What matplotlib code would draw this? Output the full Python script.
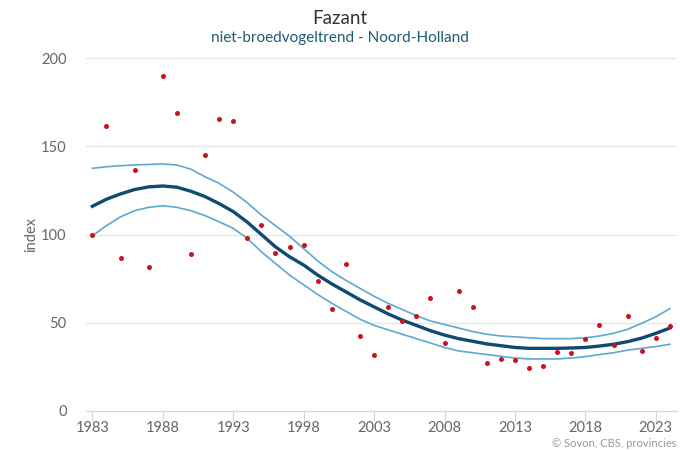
import numpy as np
import matplotlib
matplotlib.use("Agg")
import matplotlib.pyplot as plt

plt.rcParams['font.family'] = ['Lato', 'DejaVu Sans']

# observed index values per year
years = list(range(1983, 2025))
index_obs = [100, 161.5, 86.7, 136.5, 81.6, 189.8, 168.8, 89, 145, 165.4,
             164.3, 98, 105.4, 89.5, 93, 94, 73.7, 57.8, 83.3, 42.5,
             31.7, 59, 51, 53.8, 64, 38.5, 68, 59, 27.2, 29.5,
             29, 24.4, 25.5, 33.4, 32.9, 40.8, 48.7, 37.4, 53.8, 34,
             41.4, 48.2]

# smoothed trend and its confidence band
trend = [116, 120, 123, 125.5, 127, 127.5, 126.8, 124.5, 121.5, 117.5,
         113, 107, 100, 93, 87.4, 82.7, 77, 72, 67.5, 63,
         59, 55, 51.5, 48.5, 45.5, 43, 41, 39.5, 38, 37,
         36, 35.5, 35.5, 35.5, 35.7, 36, 36.8, 37.8, 39.3, 41.3,
         44, 47]
upper = [137.5, 138.4, 139, 139.4, 139.7, 140, 139.4, 137, 132.7, 129,
         124, 118, 111, 105, 99, 92, 85, 79, 74, 69.5,
         65, 61, 57.5, 54, 51, 49, 47, 45, 43.5, 42.5,
         42, 41.5, 41, 41, 41, 41.5, 42.5, 44, 46.3, 49.7,
         53.4, 58]
lower = [99.3, 105, 110, 113.5, 115.4, 116.3, 115.4, 113.5, 110.7, 107.2,
         103.5, 97.8, 90.2, 83.6, 77, 71.5, 66, 61, 56.5, 52,
         48.5, 46, 43.5, 41, 38.5, 36, 34, 33, 32, 31,
         30, 29.5, 29.5, 29.5, 30, 30.8, 32, 33, 34.5, 35.5,
         36.5, 37.8]

xticks = list(range(1983, 2024, 5))
yticks = [0, 50, 100, 150, 200]

fig = plt.figure(figsize=(6.8, 4.5), dpi=100)
ax = fig.add_axes([0.1265, 0.0867, 0.869, 0.7843])

ax.plot(years, upper, color='#5ea8cf', lw=1.2, zorder=2)
ax.plot(years, lower, color='#5ea8cf', lw=1.2, zorder=2)
ax.plot(years, trend, color='#0e4a72', lw=2.4, zorder=3)
ax.scatter(years, index_obs, s=13, color='#c8141e', zorder=4, linewidths=0)

ax.set_xlim(1982.55, 2024.5)
ax.set_ylim(0, 200)
ax.set_xticks(xticks)
ax.set_yticks(yticks)
ax.yaxis.grid(True, color='#e6e6e6', lw=1)
ax.set_axisbelow(True)
for side in ['top', 'right', 'left']:
    ax.spines[side].set_visible(False)
ax.spines['bottom'].set_color('#ccd6eb')
ax.tick_params(axis='x', colors='#ccd6eb', length=7, labelcolor='#666666',
               labelsize=10.5, pad=0)
ax.tick_params(axis='y', length=0, labelcolor='#666666', labelsize=10.5, pad=14)
ax.set_ylabel('index', color='#666666', fontsize=10.5, labelpad=2)

fig.text(0.5, 0.958, 'Fazant', ha='center', va='center', fontsize=13.5,
         color='#333333')
fig.text(0.5, 0.916, 'niet-broedvogeltrend - Noord-Holland', ha='center',
         va='center', fontsize=11, color='#1f5b6e')
fig.text(0.995, 0.002, '© Sovon, CBS, provincies', ha='right', va='bottom',
         fontsize=8, color='#999999')

fig.savefig('out.png', dpi=100)
